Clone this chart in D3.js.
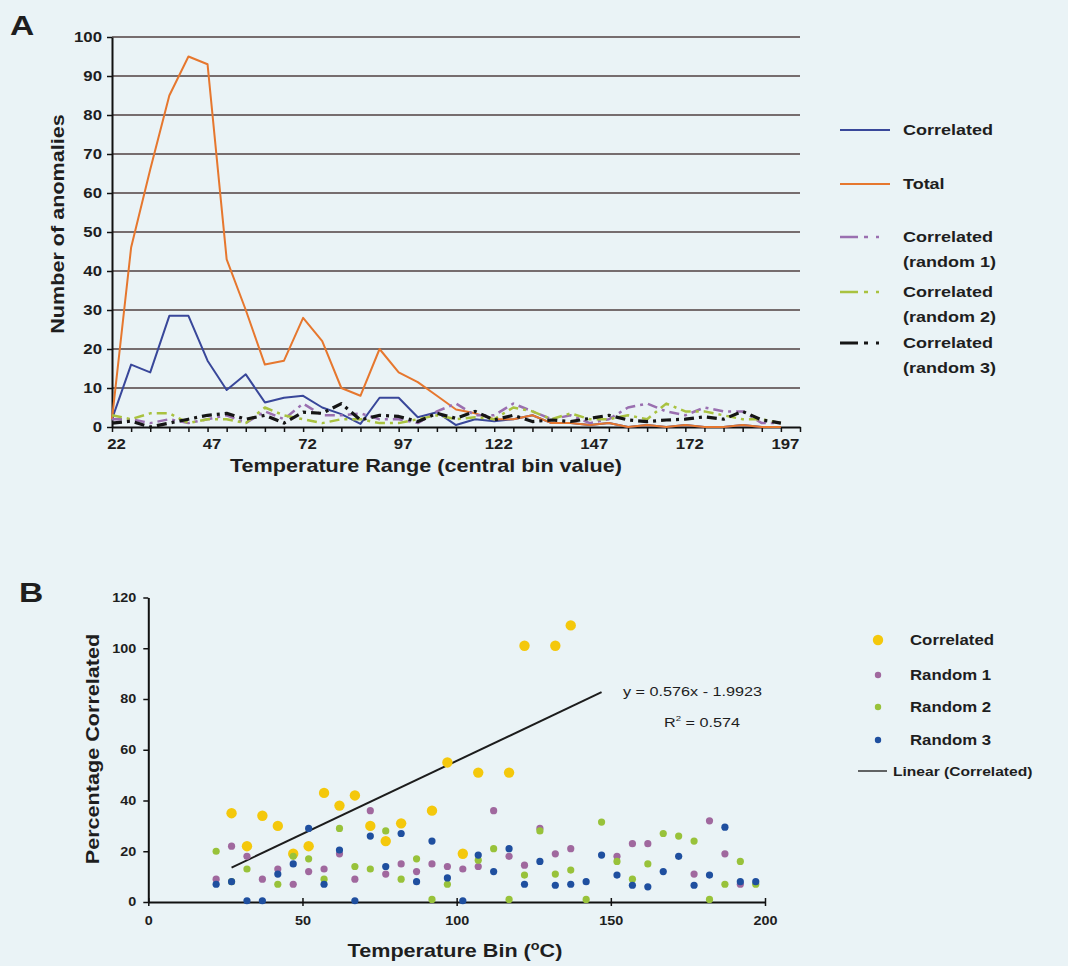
<!DOCTYPE html>
<html>
<head>
<meta charset="utf-8">
<script src="https://cdn.jsdelivr.net/npm/d3@7/dist/d3.min.js"></script>
<style>
  html, body { margin: 0; padding: 0; background: #eaf3f6; }
  svg { display: block; }
  text { font-family: "Liberation Sans", Arial, sans-serif; fill: #1e1e1e; }
</style>
</head>
<body>
<svg id="chart" width="1068" height="966"></svg>
<script>
// ---------- Panel A: number of anomalies per temperature bin ----------
const binsA = [22, 27, 32, 37, 42, 47, 52, 57, 62, 67, 72, 77, 82, 87, 92, 97, 102, 107,
               112, 117, 122, 127, 132, 137, 142, 147, 152, 157, 162, 167, 172, 177, 182, 187, 192, 197];
const labelTicksA = [22, 47, 72, 97, 122, 147, 172, 197];
const yTicksA = [0, 10, 20, 30, 40, 50, 60, 70, 80, 90, 100];

const correlatedA = [2, 16, 14, 28.5, 28.5, 17, 9.5, 13.5, 6.3, 7.5, 8, 5, 3.3, 0.8, 7.5, 7.5, 2.5, 3.8,
                     0.5, 2, 1.5, 2, 3, 1, 1, 0.5, 1, 0, 0.5, 0, 0.5, 0, 0, 0.5, 0, 0];
const totalA      = [2, 46, 66, 85, 95, 93, 43, 30, 16, 17, 28, 22, 10, 8, 20, 14, 11.5, 8,
                     4.5, 3.5, 2, 2, 3, 1, 1, 0.5, 1, 0, 0.5, 0, 0.5, 0, 0, 0.5, 0, 0];
const random1A    = [2, 2, 1, 2, 1, 2, 3, 1, 4, 2, 6, 3, 3, 3.5, 2, 2, 1, 4,
                     6, 3, 3, 6, 4, 2, 3, 1, 2, 5, 6, 4, 3, 5, 4, 4, 1, 1];
const random2A    = [3, 2, 3.5, 3.5, 1, 2, 2, 1, 5, 3, 2, 1, 2, 2, 1, 1, 2, 3,
                     2, 2.5, 2, 5, 4, 2, 3.5, 2, 2, 3, 2, 6, 4, 4, 3, 2, 2, 1];
const random3A    = [1, 1.5, 0, 1, 2, 3, 3.5, 2, 3, 1, 3.8, 3.5, 6, 1.8, 3, 2.7, 1.4, 3.5,
                     2.2, 4, 1.8, 3, 1.4, 1.8, 1.4, 2.2, 3, 1.8, 1.4, 1.8, 2, 2.6, 2, 4, 1.8, 1];

// ---------- Panel B: percentage correlated per temperature bin ----------
const binsB = binsA;
const correlatedB = [null, 35, 22, 34, 30, 19, 22, 43, 38, 42, 30, 24, 31, null, 36, 55, 19, 51,
                     null, 51, 101, null, 101, 109, null, null, null, null, null, null, null, null, null, null, null, null];
const random1B = [9, 22, 18, 9, 13, 7, 12, 13, 19, 9, 36, 11, 15, 12, 15, 14, 13, 14,
                  36, 18, 14.5, 29, 19, 21, null, null, 18, 23, 23, null, null, 11, 32, 19, 7, null];
const random2B = [20, 8, 13, null, 7, 18, 17, 9, 29, 14, 13, 28, 9, 17, 1, 7, null, 16.5,
                  21, 1, 10.6, 28, 11, 12.6, 1, 31.5, 16, 9, 15, 27, 26, 24, 1, 7, 16, 7];
const random3B = [7, 8, 0.5, 0.5, 11, 15, 29, 7, 20.5, 0.5, 26, 14, 27, 8, 24, 9.5, 0.5, 18.5,
                  12, 21, 7, 16, 6.6, 7, 8, 18.5, 10.6, 6.6, 6, 12, 18, 6.6, 10.6, 29.5, 8, 8];
const xTicksB = [0, 50, 100, 150, 200];
const yTicksB = [0, 20, 40, 60, 80, 100, 120];
const trend = { slope: 0.576, intercept: -1.9923, r2: 0.574, from: 27, to: 147 };

// ---------- styling ----------
const SX = 1.2;               // wide bold type
const C = {
  blue: "#39479a", orange: "#e6772e", purple: "#9a6fb0", green: "#a9c23f", black: "#151515",
  grid: "#4f4040", yellow: "#f4c80c", mauve: "#a0689e", lime: "#98c23a", navy: "#1f4f9f"
};

const svg = d3.select("#chart");

function label(g, x, y, str, size, opts = {}) {
  return g.append("text")
    .attr("transform", `translate(${x},${y}) rotate(${opts.rotate || 0}) scale(${SX},1)`)
    .attr("text-anchor", opts.anchor || "start")
    .style("font-size", size + "px")
    .style("font-weight", opts.weight || "bold")
    .text(str);
}

function styleTickText(sel, size) {
  sel.attr("transform", `scale(${SX},1)`)
    .style("font-size", size + "px").style("font-weight", "bold").attr("fill", "#1e1e1e")
    .style("font-family", '"Liberation Sans", Arial, sans-serif');
}

// ================= Panel A =================
const gA = svg.append("g");
const xA = d3.scaleLinear().domain([22, 202]).range([112, 800]);
const yA = d3.scaleLinear().domain([0, 100]).range([427, 37]);

label(gA, 10, 35, "A", 28);

// horizontal gridlines
gA.append("g").selectAll("line").data(yTicksA.filter(d => d > 0)).join("line")
  .attr("x1", xA(22)).attr("x2", xA(202))
  .attr("y1", d => yA(d)).attr("y2", d => yA(d))
  .attr("stroke", C.grid).attr("stroke-width", 1.5);

// y axis
const yAxisA = gA.append("g").attr("transform", `translate(${xA(22)},0)`)
  .call(d3.axisLeft(yA).tickValues(yTicksA).tickSize(5).tickSizeOuter(0).tickPadding(8));
yAxisA.select(".domain").attr("stroke", "#111").attr("stroke-width", 2);
yAxisA.selectAll(".tick line").attr("stroke", "#111").attr("stroke-width", 1.5);
styleTickText(yAxisA.selectAll(".tick text").attr("x", -10 / SX), 14);

// x axis: a tick at every bin, labels every fifth bin
const xTickAll = binsA.concat([202]);
const xAxisA = gA.append("g").attr("transform", `translate(0,${yA(0)})`)
  .call(d3.axisBottom(xA).tickValues(xTickAll).tickSize(5).tickSizeOuter(0)
    .tickFormat(d => labelTicksA.includes(d) ? d : ""));
xAxisA.select(".domain").attr("stroke", "#111").attr("stroke-width", 2);
xAxisA.selectAll(".tick line").attr("stroke", "#111").attr("stroke-width", 1.5);
styleTickText(xAxisA.selectAll(".tick text").attr("x", 4 / SX).attr("y", 12), 14);

// series lines
const lineA = d3.line().x((d, i) => xA(binsA[i])).y(d => yA(d));
const seriesA = [
  { name: "Correlated", values: correlatedA, color: C.blue, width: 2, dash: null },
  { name: "Total", values: totalA, color: C.orange, width: 2, dash: null },
  { name: "Correlated (random 1)", values: random1A, color: C.purple, width: 2.5, dash: "10,5,3,5" },
  { name: "Correlated (random 2)", values: random2A, color: C.green, width: 2.5, dash: "10,5,3,5" },
  { name: "Correlated (random 3)", values: random3A, color: C.black, width: 3.2, dash: "10,5,3,5" }
];
gA.append("g").selectAll("path").data(seriesA).join("path")
  .attr("d", s => lineA(s.values))
  .attr("fill", "none")
  .attr("stroke", s => s.color)
  .attr("stroke-width", s => s.width)
  .attr("stroke-dasharray", s => s.dash)
  .attr("stroke-linejoin", "round");

// legend A
const legA = gA.append("g");
const legRowsA = [
  { s: seriesA[0], y: 130, lines: ["Correlated"] },
  { s: seriesA[1], y: 184, lines: ["Total"] },
  { s: seriesA[2], y: 237, lines: ["Correlated", "(random 1)"] },
  { s: seriesA[3], y: 292, lines: ["Correlated", "(random 2)"] },
  { s: seriesA[4], y: 343, lines: ["Correlated", "(random 3)"] }
];
legRowsA.forEach(r => {
  legA.append("line").attr("x1", 840).attr("x2", 890).attr("y1", r.y).attr("y2", r.y)
    .attr("stroke", r.s.color).attr("stroke-width", r.s.width)
    .attr("stroke-dasharray", r.s.dash ? "18,6,4,8,3" : null);
  r.lines.forEach((t, i) => label(legA, 903, r.y + 5 + i * 25, t, 15));
});

// axis titles A
label(gA, 426, 472, "Temperature Range (central bin value)", 18, { anchor: "middle" });
label(gA, 64, 224, "Number of anomalies", 18, { anchor: "middle", rotate: -90 });

// ================= Panel B =================
const gB = svg.append("g");
const xB = d3.scaleLinear().domain([0, 200]).range([148.3, 765]);
const yB = d3.scaleLinear().domain([0, 120]).range([902, 597.5]);

label(gB, 19, 602, "B", 28);

const yAxisB = gB.append("g").attr("transform", `translate(${xB(0)},0)`)
  .call(d3.axisLeft(yB).tickValues(yTicksB).tickSize(5).tickSizeOuter(0).tickPadding(8));
const xAxisB = gB.append("g").attr("transform", `translate(0,${yB(0)})`)
  .call(d3.axisBottom(xB).tickValues(xTicksB).tickSize(5).tickSizeOuter(0));
[yAxisB, xAxisB].forEach(ax => {
  ax.select(".domain").attr("stroke", "#111").attr("stroke-width", 2);
  ax.selectAll(".tick line").attr("stroke", "#111").attr("stroke-width", 1.5);
  styleTickText(ax.selectAll(".tick text"), 12);
});
yAxisB.selectAll(".tick text").attr("x", -12 / SX);
xAxisB.selectAll(".tick text").attr("y", 14);
// x-axis ticks cross the axis line
xAxisB.selectAll(".tick line").attr("y1", -4).attr("y2", 4);

// trendline from its fitted equation
gB.append("line")
  .attr("x1", xB(trend.from)).attr("y1", yB(trend.slope * trend.from + trend.intercept))
  .attr("x2", xB(trend.to)).attr("y2", yB(trend.slope * trend.to + trend.intercept))
  .attr("stroke", "#1c1c1c").attr("stroke-width", 2);

// scatter series
const seriesB = [
  { name: "Correlated", values: correlatedB, color: C.yellow, r: 5.2 },
  { name: "Random 1", values: random1B, color: C.mauve, r: 3.6 },
  { name: "Random 2", values: random2B, color: C.lime, r: 3.6 },
  { name: "Random 3", values: random3B, color: C.navy, r: 3.6 }
];
seriesB.forEach(s => {
  const pts = s.values.map((v, i) => ({ x: binsB[i], y: v })).filter(p => p.y !== null);
  gB.append("g").selectAll("circle").data(pts).join("circle")
    .attr("cx", p => xB(p.x)).attr("cy", p => yB(p.y)).attr("r", s.r)
    .attr("fill", s.color);
});

// equation labels
label(gB, 623, 696, `y = ${trend.slope}x - ${trend.intercept.toString().replace("-", "")}`, 13.5, { weight: "normal" });
const r2 = gB.append("text")
  .attr("transform", `translate(664,727) scale(${SX},1)`)
  .style("font-size", "13.5px");
r2.append("tspan").text("R");
r2.append("tspan").attr("dy", -6).style("font-size", "8px").text("2");
r2.append("tspan").attr("dy", 6).text(` = ${trend.r2}`);

// legend B
const legB = gB.append("g");
const legRowsB = [640, 675, 707, 740];
seriesB.forEach((s, i) => {
  legB.append("circle").attr("cx", 878).attr("cy", legRowsB[i]).attr("r", i === 0 ? 5.2 : 3.2).attr("fill", s.color);
  label(legB, 910, legRowsB[i] + 5, s.name, 14);
});
legB.append("line").attr("x1", 858).attr("x2", 887).attr("y1", 771).attr("y2", 771)
  .attr("stroke", "#333").attr("stroke-width", 1.5);
label(legB, 893, 776, "Linear (Correlated)", 13);

// axis titles B
const xtB = gB.append("text")
  .attr("transform", `translate(455,957) scale(${SX},1)`)
  .attr("text-anchor", "middle").style("font-size", "18px").style("font-weight", "bold");
xtB.append("tspan").text("Temperature Bin (");
xtB.append("tspan").attr("dy", -7).style("font-size", "12px").text("o");
xtB.append("tspan").attr("dy", 7).text("C)");
label(gB, 99, 749, "Percentage Correlated", 18, { anchor: "middle", rotate: -90 });
</script>
</body>
</html>
